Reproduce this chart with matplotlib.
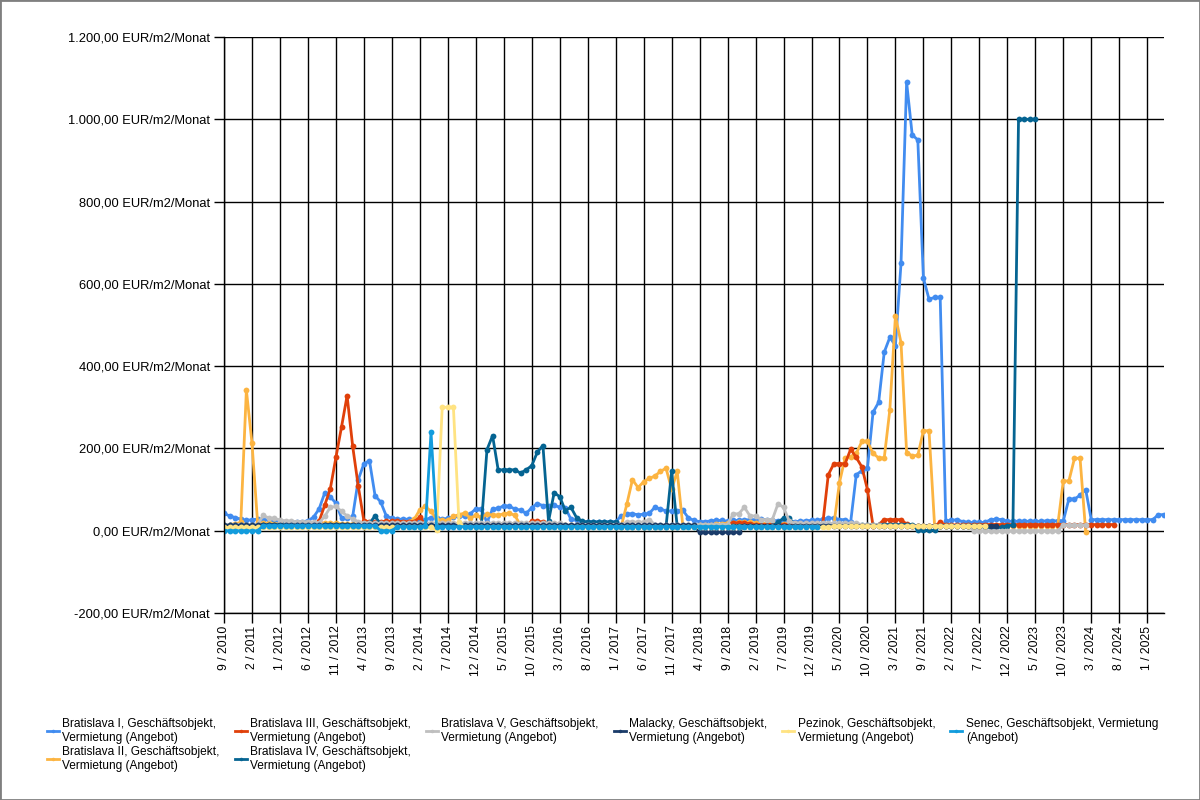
import matplotlib
matplotlib.use("Agg")
import matplotlib.pyplot as plt
from matplotlib.patches import Rectangle
import numpy as np

nan = float("nan")

# x labels shown every 5th category
tick_labels = ["9 / 2010", "2 / 2011", "1 / 2012", "6 / 2012", "11 / 2012", "4 / 2013",
               "9 / 2013", "2 / 2014", "7 / 2014", "12 / 2014", "5 / 2015", "10 / 2015",
               "3 / 2016", "8 / 2016", "1 / 2017", "6 / 2017", "11 / 2017", "4 / 2018",
               "9 / 2018", "2 / 2019", "7 / 2019", "12 / 2019", "5 / 2020", "10 / 2020",
               "3 / 2021", "9 / 2021", "2 / 2022", "7 / 2022", "12 / 2022", "5 / 2023",
               "10 / 2023", "3 / 2024", "8 / 2024", "1 / 2025"]

bratislava_1 = [42, 36, 32, 28, 25, 27, 28, 27, 26, 24,
                22, 22, 21, 21, 22, 24, 33, 53, 92, 82,
                67, 31, 30, 35, 124, 163, 170, 85, 70, 36,
                30, 28, 28, 28, 25, 25, 27, 32, 30, 28,
                30, 33, 35, 35, 41, 53, 53, 20, 53, 54,
                61, 59, 53, 50, 42, 56, 66, 61, 61, 62,
                57, 56, 28, 25, 22, 22, 22, 22, 22, 22,
                22, 36, 41, 41, 39, 40, 42, 57, 53, 48,
                48, 49, 50, 31, 25, 22, 22, 24, 25, 25,
                23, 25, 25, 26, 27, 27, 28, 27, 25, 24,
                22, 22, 22, 23, 24, 25, 25, 28, 30, 31,
                27, 27, 21, 136, 146, 152, 288, 312, 434, 470,
                450, 650, 1090, 962, 950, 614, 563, 567, 567, 24,
                25, 27, 22, 20, 20, 20, 20, 27, 28, 27,
                23, 23, 23, 23, 23, 23, 23, 24, 24, 24,
                24, 77, 77, 86, 100, 27, 27, 27, 27, 27,
                27, 27, 27, 27, 27, 27, 27, 39, 39]

bratislava_2 = [15, 15, 17, 20, 342, 213, 20, 18, 18, 17,
                16, 16, 15, 15, 15, 16, 17, 17, 18, 18,
                18, 17, 16, 16, 15, 15, 15, 15, 15, 16,
                16, 17, 18, 22, 28, 51, 59, 47, 27, 25,
                25, 35, 39, 43, 31, 37, 33, 40, 38, 38,
                41, 43, 37, 13, 13, 13, 13, 13, 13, 13,
                13, 13, 13, 13, 13, 13, 13, 13, 13, 13,
                12, 10, 65, 124, 105, 119, 127, 133, 144, 152,
                101, 144, 12, 12, 12, 13, 14, 15, 16, 17,
                18, 19, 20, 20, 20, 19, 18, 18, 17, 17,
                16, 16, 16, 16, 15, 15, 15, 15, 15, 15,
                117, 177, 180, 188, 217, 217, 188, 177, 177, 294,
                522, 457, 190, 182, 183, 243, 243, 12, 12, 12,
                12, 12, 12, 12, 12, 12, 12, 12, 12, 12,
                12, 12, 12, 12, 12, 12, 12, 12, 12, 12,
                121, 121, 176, 176, -2, nan, nan, nan, nan, nan,
                nan, nan, nan, nan, nan, nan, nan, nan, nan]

bratislava_3 = [nan, nan, nan, nan, nan, nan, nan, nan, nan, nan,
                nan, nan, nan, nan, nan, nan, nan, 23, 62, 102,
                178, 252, 328, 205, 108, 24, 22, 22, 22, 23,
                23, 23, 22, 22, 22, 33, 14, 12, 12, 12,
                12, 12, 12, 12, 12, 12, 12, 12, 12, 12,
                12, 12, 12, 12, 12, 23, 23, 21, 12, 12,
                12, 12, 12, 12, 12, 12, 12, 12, 12, 12,
                12, 12, 12, 12, 12, 12, 12, 12, 12, 12,
                12, 12, 12, 12, 12, 12, 12, 12, 12, 12,
                15, 19, 19, 19, 17, 15, 15, 15, 15, 15,
                15, 15, 15, 15, 15, 15, 15, 15, 136, 163,
                163, 163, 198, 178, 155, 100, 12, 15, 27, 27,
                27, 27, 16, 12, 12, 12, 12, 12, 20, 14,
                14, 14, 14, 14, 14, 14, 15, 15, 15, 15,
                15, 15, 15, 15, 15, 15, 15, 15, 15, 15,
                15, 15, 15, 15, 15, 15, 15, 15, 15, 15,
                nan, nan, nan, nan, nan, nan, nan, nan, nan]

bratislava_4 = [15, 15, 15, 15, 15, 15, 15, 15, 15, 15,
                15, 15, 15, 15, 15, 15, 15, 15, 15, 15,
                15, 15, 15, 15, 15, 15, 18, 36, 15, 15,
                15, 15, 15, 15, 15, 15, 15, 15, 15, 15,
                15, 15, 15, 15, 15, 15, 15, 197, 231, 148,
                148, 148, 148, 140, 148, 158, 191, 207, 23, 92,
                83, 49, 57, 32, 23, 21, 21, 21, 21, 21,
                21, 10, 10, 10, 10, 10, 10, 10, 10, 10,
                144, 10, 12, 12, 12, 12, 12, 12, 12, 12,
                12, 12, 12, 12, 12, 12, 12, 12, 12, 20,
                31, 31, 15, 15, 15, 15, 15, 15, 15, 15,
                15, 15, 15, 15, 15, 15, 15, 15, 15, 15,
                15, 15, 15, 15, 1, 1, 1, 1, 12, 12,
                12, 12, 12, 12, 12, 12, 8, 8, 8, 8,
                12, 14, 1000, 1000, 1000, 1000, nan, nan, nan, nan,
                nan, nan, nan, nan, nan, nan, nan, nan, nan, nan,
                nan, nan, nan, nan, nan, nan, nan, nan, nan]

bratislava_5 = [15, 15, 15, 15, 15, 15, 15, 37, 31, 30,
                26, 24, 23, 22, 22, 22, 20, 19, 35, 57,
                59, 47, 36, 28, 22, 18, 18, 18, 18, 18,
                18, 18, 18, 18, 18, 18, 18, 18, 18, 18,
                18, 18, 18, 18, 18, 18, 18, 18, 18, 18,
                18, 18, 18, 18, 18, 18, 18, 18, 18, 18,
                18, 15, 15, 15, 15, 15, 15, 15, 15, 15,
                15, 15, 21, 21, 21, 21, 27, 15, 15, 15,
                15, 15, 15, 15, 15, 15, 15, 15, 15, 15,
                15, 41, 41, 57, 36, 36, 27, 27, 27, 65,
                57, 24, 18, 18, 18, 18, 18, 18, 18, 18,
                18, 18, 18, 18, 15, 15, 15, 15, 12, 12,
                12, 12, 12, 12, 12, 12, 12, 12, 12, 12,
                12, 12, 12, 12, 0, 0, 0, 0, 0, 0,
                0, 0, 0, 0, 0, 0, 0, 0, 0, 0,
                14, 14, 14, 14, 14, nan, nan, nan, nan, nan,
                nan, nan, nan, nan, nan, nan, nan, nan, nan]

malacky = [13] * 85 + [-4] * 8 + [12] * 46 + [nan] * 30

pezinok = ([8] * 38 + [2, 300, 300, 300, 20] + [8] * 66 + [11] * 28
           + [nan] * 32)

senec = ([0] * 7 + [12] * 21 + [0, 0, 0, 10, 10, 10, 10, 10, 12, 239]
         + [10] * 69 + [nan] * 62)

series_names = ["Bratislava I, Geschäftsobjekt,\nVermietung (Angebot)",
                "Bratislava II, Geschäftsobjekt,\nVermietung (Angebot)",
                "Bratislava III, Geschäftsobjekt,\nVermietung (Angebot)",
                "Bratislava IV, Geschäftsobjekt,\nVermietung (Angebot)",
                "Bratislava V, Geschäftsobjekt,\nVermietung (Angebot)",
                "Malacky, Geschäftsobjekt,\nVermietung (Angebot)",
                "Pezinok, Geschäftsobjekt,\nVermietung (Angebot)",
                "Senec, Geschäftsobjekt, Vermietung\n(Angebot)"]
series_values = [bratislava_1, bratislava_2, bratislava_3, bratislava_4,
                 bratislava_5, malacky, pezinok, senec]
colors = ["#418CF0", "#FCB441", "#E0400A", "#056492",
          "#BFBFBF", "#1A3B69", "#FFE382", "#129CDD"]

plt.rcParams["font.family"] = ["Liberation Sans", "DejaVu Sans"]

fig = plt.figure(figsize=(12, 8), dpi=100)
ax = fig.add_axes([224 / 1200, 1 - 613 / 800, (1164 - 224) / 1200, (613 - 37) / 800])

for name, vals, col in zip(series_names, series_values, colors):
    x = np.arange(len(vals))
    ax.plot(x, vals, color=col, lw=2, marker="o", markersize=4.2,
            markeredgewidth=0, label=name)

n = len(bratislava_1)
ax.set_xlim(0, n - 1)
ax.set_ylim(-200, 1200)

ax.set_xticks(np.arange(0, 5 * len(tick_labels), 5))
ax.set_xticklabels(tick_labels, rotation=90, fontsize=8.8)
yt = np.arange(-200, 1201, 200)
ax.set_yticks(yt)
ax.set_yticklabels([f"{v:,.2f}".replace(",", "X").replace(".", ",").replace("X", ".")
                    + " EUR/m2/Monat" for v in yt], fontsize=9.3)

ax.grid(True, color="black", lw=1)
ax.set_axisbelow(True)
ax.tick_params(length=7, width=1, color="black", pad=3)
ax.tick_params(axis="x", pad=2)
for s in ["top", "right"]:
    ax.spines[s].set_visible(False)
for s in ["left", "bottom"]:
    ax.spines[s].set_linewidth(1)

fig.legend(loc="upper left", bbox_to_anchor=(36 / 1200, 1 - 707 / 800), ncol=6,
           frameon=False, fontsize=8.6, handlelength=1.0, handletextpad=0.3,
           columnspacing=1.25, labelspacing=0.2, markerscale=0.6)

fig.patches.append(Rectangle((0, 0), 1, 1, transform=fig.transFigure, fill=False,
                             edgecolor="#7f7f7f", lw=2))

fig.savefig("out.png", dpi=100, facecolor="white")
